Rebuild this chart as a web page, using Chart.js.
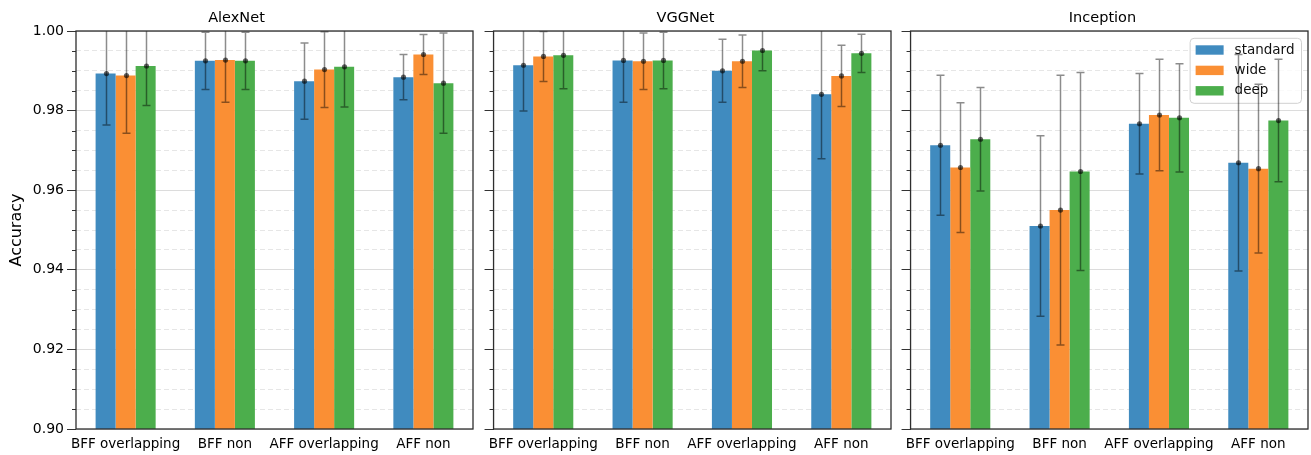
<!DOCTYPE html>
<html>
<head>
<meta charset="utf-8">
<script src="https://cdn.jsdelivr.net/npm/chart.js@4"></script>
<style>
  html, body { margin: 0; padding: 0; background: #fff; overflow: hidden; }
  #wrap { position: relative; width: 1311px; height: 455px; }
  canvas { position: absolute; top: 0; }
</style>
</head>
<body>
<div id="wrap">
  <canvas id="alexnet" width="549" height="455" style="left:0px"></canvas>
  <canvas id="vggnet" width="424" height="455" style="left:480px"></canvas>
  <canvas id="inception" width="424" height="455" style="left:897px"></canvas>
</div>
<script>
const categories = ['BFF overlapping', 'BFF non', 'AFF overlapping', 'AFF non'];
const seriesNames = ['standard', 'wide', 'deep'];
const panelTitles = ['AlexNet', 'VGGNet', 'Inception'];
const yLabel = 'Accuracy';

// AlexNet
const alexStandard = [0.9893, 0.9925, 0.9874, 0.9884];
const alexStandardErr = [0.0129, 0.0072, 0.0096, 0.0057];
const alexWide = [0.9888, 0.9927, 0.9903, 0.9941];
const alexWideErr = [0.0145, 0.0106, 0.0095, 0.0050];
const alexDeep = [0.9912, 0.9925, 0.9910, 0.9869];
const alexDeepErr = [0.0099, 0.0072, 0.0101, 0.0126];

// VGGNet
const vggStandard = [0.9914, 0.9926, 0.9900, 0.9841];
const vggStandardErr = [0.0115, 0.0105, 0.0079, 0.0162];
const vggWide = [0.9936, 0.9924, 0.9924, 0.9887];
const vggWideErr = [0.0063, 0.0071, 0.0066, 0.0077];
const vggDeep = [0.9939, 0.9926, 0.9951, 0.9944];
const vggDeepErr = [0.0084, 0.0071, 0.0051, 0.0048];

// Inception
const incStandard = [0.9713, 0.9510, 0.9767, 0.9669];
const incStandardErr = [0.0176, 0.0227, 0.0126, 0.0272];
const incWide = [0.9657, 0.9550, 0.9789, 0.9654];
const incWideErr = [0.0163, 0.0339, 0.0140, 0.0212];
const incDeep = [0.9728, 0.9647, 0.9782, 0.9775];
const incDeepErr = [0.0130, 0.0249, 0.0136, 0.0154];

const barColors = ['rgb(64,139,191)', 'rgb(250,143,52)', 'rgb(76,174,76)'];
const FONT = "'DejaVu Sans', sans-serif";

const isMajor = (v) => Math.abs(v / 0.02 - Math.round(v / 0.02)) < 1e-6;

// error bars, legend, minor ticks and box frame
const decorPlugin = {
    id: 'decor',
    afterDatasetsDraw(chart) {
        const ctx = chart.ctx;
        const area = chart.chartArea;
        const yScale = chart.scales.y;

        // legend box (only where asked)
        if (chart.options.plugins.decor && chart.options.plugins.decor.legend) {
            ctx.save();
            ctx.font = '13.5px ' + FONT;
            const textW = Math.max(...chart.data.datasets.map(d => ctx.measureText(d.label).width));
            const w = 5.5 + 28 + 11 + textW + 7;
            const h = 65;
            const lx = area.right - 6.5 - w;
            const ly = area.top + 7.3;
            const r = 4;
            ctx.beginPath();
            ctx.moveTo(lx + r, ly);
            ctx.lineTo(lx + w - r, ly);
            ctx.arcTo(lx + w, ly, lx + w, ly + r, r);
            ctx.lineTo(lx + w, ly + h - r);
            ctx.arcTo(lx + w, ly + h, lx + w - r, ly + h, r);
            ctx.lineTo(lx + r, ly + h);
            ctx.arcTo(lx, ly + h, lx, ly + h - r, r);
            ctx.lineTo(lx, ly + r);
            ctx.arcTo(lx, ly, lx + r, ly, r);
            ctx.closePath();
            ctx.fillStyle = 'rgba(255,255,255,0.8)';
            ctx.fill();
            ctx.strokeStyle = '#d0d0d0';
            ctx.lineWidth = 1;
            ctx.stroke();
            chart.data.datasets.forEach((d, i) => {
                const cy = ly + 11.7 + i * 20.4;
                ctx.fillStyle = d.backgroundColor;
                ctx.fillRect(lx + 5.5, cy - 4.7, 28, 9.4);
                ctx.fillStyle = '#111';
                ctx.textBaseline = 'middle';
                ctx.textAlign = 'left';
                ctx.fillText(d.label, lx + 5.5 + 28 + 11, cy);
            });
            ctx.restore();
        }

        // error bars
        ctx.save();
        ctx.beginPath();
        ctx.rect(area.left, area.top, area.right - area.left, area.bottom - area.top);
        ctx.clip();
        chart.data.datasets.forEach((ds, di) => {
            const meta = chart.getDatasetMeta(di);
            meta.data.forEach((bar, i) => {
                const v = ds.data[i];
                const e = ds.errors[i];
                const x = Math.round(bar.x) + 0.5;
                const yTop = yScale.getPixelForValue(v + e);
                const yBot = yScale.getPixelForValue(v - e);
                const yMid = yScale.getPixelForValue(v);
                ctx.strokeStyle = 'rgba(0,0,0,0.45)';
                ctx.lineWidth = 1.5;
                ctx.beginPath();
                ctx.moveTo(x, yTop); ctx.lineTo(x, yBot);
                ctx.moveTo(x - 4, yTop); ctx.lineTo(x + 4, yTop);
                ctx.moveTo(x - 4, yBot); ctx.lineTo(x + 4, yBot);
                ctx.stroke();
                ctx.fillStyle = 'rgba(0,0,0,0.6)';
                ctx.beginPath();
                ctx.arc(x, yMid, 2.6, 0, Math.PI * 2);
                ctx.fill();
            });
        });
        ctx.restore();

        // minor ticks
        ctx.save();
        ctx.strokeStyle = '#333';
        ctx.lineWidth = 1;
        yScale.ticks.forEach(t => {
            if (isMajor(t.value)) return;
            const py = Math.round(yScale.getPixelForValue(t.value)) + 0.5;
            ctx.beginPath();
            ctx.moveTo(area.left - 4, py);
            ctx.lineTo(area.left, py);
            ctx.stroke();
        });
        // frame
        ctx.strokeStyle = '#2e2e2e';
        ctx.lineWidth = 1.3;
        ctx.strokeRect(area.left, area.top, area.right - area.left, area.bottom - area.top);
        ctx.restore();
    }
};

function makePanel(canvasId, title, values, errors, showYLabels, yWidth, rightPad, withLegend) {
    const ctx = document.getElementById(canvasId).getContext('2d');
    return new Chart(ctx, {
        type: 'bar',
        data: {
            labels: categories,
            datasets: seriesNames.map((name, k) => ({
                label: name,
                data: values[k],
                errors: errors[k],
                backgroundColor: barColors[k],
                borderWidth: 0,
                barPercentage: 1.0,
                categoryPercentage: 0.605
            }))
        },
        options: {
            responsive: false,
            animation: false,
            layout: { padding: { left: 0, right: rightPad, top: 0, bottom: 0 } },
            plugins: {
                legend: { display: false },
                tooltip: { enabled: false },
                title: {
                    display: true,
                    text: title,
                    color: '#000',
                    font: { family: FONT, size: 14.5, weight: 'normal', lineHeight: 1.2 },
                    padding: { top: 9.6, bottom: 4 }
                },
                decor: { legend: withLegend }
            },
            scales: {
                x: {
                    grid: { display: false, drawTicks: false },
                    border: { display: false },
                    ticks: {
                        color: '#000',
                        font: { family: FONT, size: 13.5 },
                        padding: 7,
                        autoSkip: false,
                        maxRotation: 0
                    },
                    afterFit: (scale) => { scale.height = 26; }
                },
                y: {
                    min: 0.9,
                    max: 1.0,
                    afterFit: (scale) => { scale.width = yWidth; },
                    title: {
                        display: showYLabels,
                        text: yLabel,
                        color: '#000',
                        font: { family: FONT, size: 16 },
                        padding: { top: 7, bottom: 0 }
                    },
                    border: {
                        display: false,
                        dash: (c) => (c.tick && !isMajor(c.tick.value)) ? [5, 3] : []
                    },
                    grid: {
                        color: (c) => (c.tick && isMajor(c.tick.value)) ? '#dcdcdc' : '#e6e6e6',
                        lineWidth: 1,
                        drawTicks: true,
                        tickLength: 9,
                        tickColor: (c) => (c.tick && isMajor(c.tick.value)) ? '#333' : 'rgba(0,0,0,0)'
                    },
                    ticks: {
                        stepSize: 0.005,
                        autoSkip: false,
                        color: '#000',
                        padding: 3,
                        font: { family: FONT, size: 14 },
                        callback: (v) => (showYLabels && isMajor(v)) ? v.toFixed(2) : ''
                    }
                }
            }
        },
        plugins: [decorPlugin]
    });
}

makePanel('alexnet', panelTitles[0],
    [alexStandard, alexWide, alexDeep],
    [alexStandardErr, alexWideErr, alexDeepErr],
    true, 76, 76, false);

makePanel('vggnet', panelTitles[1],
    [vggStandard, vggWide, vggDeep],
    [vggStandardErr, vggWideErr, vggDeepErr],
    false, 13, 13, false);

makePanel('inception', panelTitles[2],
    [incStandard, incWide, incDeep],
    [incStandardErr, incWideErr, incDeepErr],
    false, 13, 13, true);
</script>
</body>
</html>
